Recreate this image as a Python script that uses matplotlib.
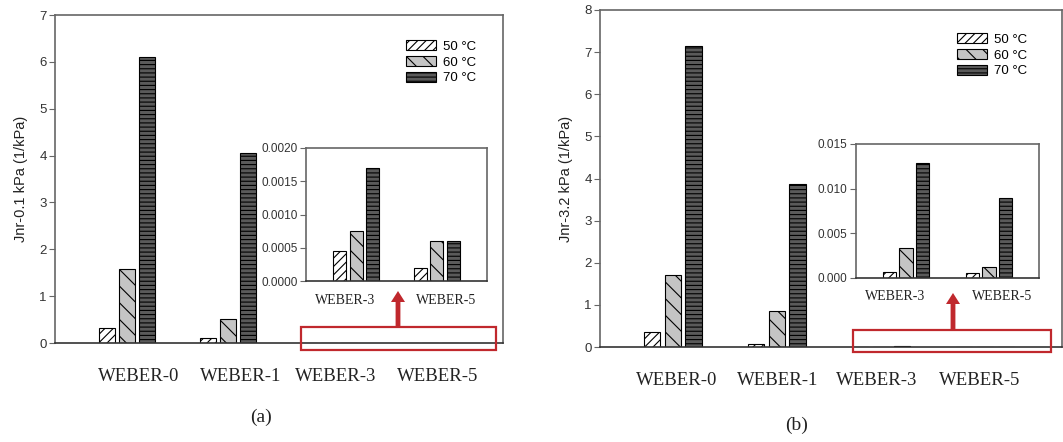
import matplotlib
matplotlib.use("Agg")
import matplotlib.pyplot as plt
import numpy as np
from matplotlib.patches import Rectangle, Patch

# data
temps = ["50 °C", "60 °C", "70 °C"]
mixes = ["WEBER-0", "WEBER-1", "WEBER-3", "WEBER-5"]
inset_mixes = ["WEBER-3", "WEBER-5"]

jnr01_50 = [0.33, 0.10, 0.00045, 0.00020]
jnr01_60 = [1.57, 0.52, 0.00075, 0.00060]
jnr01_70 = [6.10, 4.05, 0.00170, 0.00060]

jnr32_50 = [0.36, 0.06, 0.0007, 0.0006]
jnr32_60 = [1.71, 0.85, 0.0034, 0.0012]
jnr32_70 = [7.15, 3.87, 0.0129, 0.0090]

W, H = 1063, 442
plt.rcParams['font.family'] = ['Liberation Sans', 'DejaVu Sans']
plt.rcParams['hatch.linewidth'] = 0.8
SERIF = ['Liberation Serif', 'DejaVu Serif']

face = ['white', '#c4c4c4', '#5a5a5a']
hatches = ['////', '\\\\', '----']
SPINE = '#666666'

fig = plt.figure(figsize=(W / 100, H / 100), dpi=100)


def px_axes(l, t, r, b):
    return fig.add_axes([l / W, 1 - b / H, (r - l) / W, (b - t) / H])


def draw_bars(ax, series, width, step, tick_size):
    x = np.arange(len(series[0]))
    for i, vals in enumerate(series):
        ax.bar(x + (i - 1) * step, vals, width, color=face[i], hatch=hatches[i],
               edgecolor='black', linewidth=0.8)
    for s in ['left', 'top', 'right']:
        ax.spines[s].set_color(SPINE)
        ax.spines[s].set_linewidth(1.2)
    ax.spines['bottom'].set_color('#333333')
    ax.spines['bottom'].set_linewidth(1.2)
    ax.tick_params(axis='y', direction='out', length=4, color=SPINE,
                   labelsize=tick_size, labelcolor='#333333', pad=2)


def style_xlabels(ax, pos, labels, size, pad):
    ax.set_xticks(pos)
    ax.set_xticklabels(labels, fontfamily=SERIF, fontsize=size, color='#222222')
    ax.tick_params(axis='x', length=0, pad=pad)


def panel(box, inset_box, s50, s60, s70, xlim, ymax, ylabel, label_pos,
          inset_xlim, inset_ymax, inset_ticks, fmt, inset_label_pos,
          rect, arrow, leg_xy, tag, tag_xy):
    ax = px_axes(*box)
    draw_bars(ax, [s50, s60, s70], 0.158, 0.2, 9.5)
    ax.set_xlim(*xlim)
    ax.set_ylim(0, ymax)
    ax.set_yticks(range(0, ymax + 1))
    ax.set_ylabel(ylabel, fontsize=10.5, color='#222222', labelpad=8)
    style_xlabels(ax, label_pos, mixes, 13.5, 18)

    handles = [Patch(facecolor=face[i], hatch=hatches[i], edgecolor='black',
                     linewidth=0.8) for i in range(3)]
    ax.legend(handles, temps, loc='upper left', bbox_to_anchor=(leg_xy[0] / W, 1 - leg_xy[1] / H),
              bbox_transform=fig.transFigure, frameon=False, fontsize=9.5,
              handlelength=2.3, handleheight=0.8, labelspacing=0.25,
              handletextpad=0.5, borderpad=0, borderaxespad=0)

    ins = px_axes(*inset_box)
    draw_bars(ins, [s50[2:], s60[2:], s70[2:]], 0.16, 0.2, 8.5)
    ins.set_xlim(*inset_xlim)
    ins.set_ylim(0, inset_ymax)
    ins.set_yticks(inset_ticks)
    ins.yaxis.set_major_formatter(matplotlib.ticker.FormatStrFormatter(fmt))
    style_xlabels(ins, inset_label_pos, inset_mixes, 10, 9)

    l, t, r, b = rect
    fig.add_artist(Rectangle((l / W, 1 - b / H), (r - l) / W, (b - t) / H,
                             transform=fig.transFigure, fill=False,
                             edgecolor='#c0282d', linewidth=1.6))
    ax0, ay0, ay1 = arrow
    fig.add_artist(matplotlib.patches.FancyArrow(
        ax0 / W, 1 - ay0 / H, 0, (ay0 - ay1) / H, width=2.0 / H,
        head_width=14 / W, head_length=11 / H, length_includes_head=True,
        transform=fig.transFigure, color='#c0282d', linewidth=0))
    fig.text(tag_xy[0] / W, 1 - tag_xy[1] / H, tag, fontfamily=SERIF,
             fontsize=14, ha='center', va='center', color='#222222')


panel((55, 15, 503, 343), (306, 148, 487, 281), jnr01_50, jnr01_60, jnr01_70,
      (-0.713, 3.72), 7, 'Jnr-0.1 kPa (1/kPa)', [0.11, 1.12, 2.06, 3.07],
      (-0.62, 1.62), 0.002, [0, 0.0005, 0.001, 0.0015, 0.002], '%.4f',
      [-0.14, 1.12], (301, 327, 496, 350), (398, 327, 291), (406, 40),
      '(a)', (261, 417))

panel((600, 10, 1062, 347), (856, 144, 1039, 278), jnr32_50, jnr32_60, jnr32_70,
      (-0.70, 3.74), 8, 'Jnr-3.2 kPa (1/kPa)', [0.04, 1.01, 1.96, 2.95],
      (-0.60, 1.60), 0.015, [0, 0.005, 0.01, 0.015], '%.3f',
      [-0.13, 1.16], (853, 330, 1051, 352), (953, 330, 293), (957, 33),
      '(b)', (797, 425))

fig.savefig('out.png', dpi=100)
